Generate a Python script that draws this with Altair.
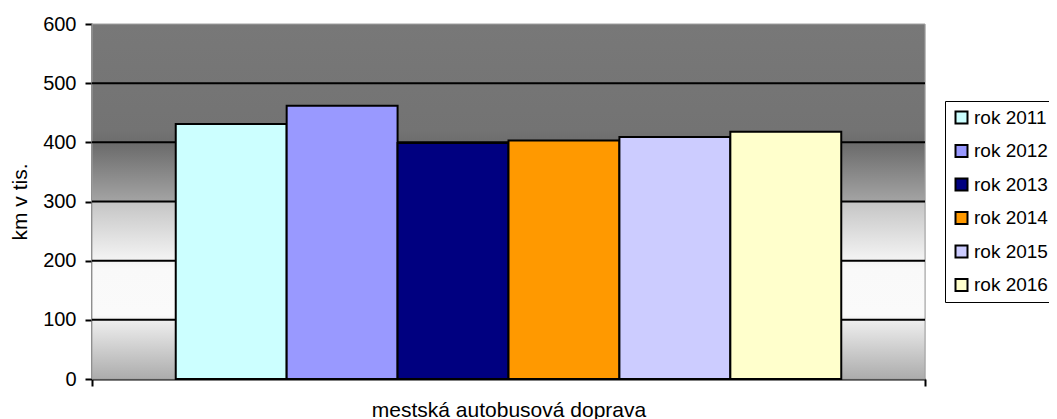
import altair as alt
import pandas as pd

# ---- data ----
years = ["rok 2011", "rok 2012", "rok 2013", "rok 2014", "rok 2015", "rok 2016"]
values = [431, 462, 399, 403, 409, 418]
colors = ["#CCFFFF", "#9999FF", "#000080", "#FF9900", "#CCCCFF", "#FFFFCC"]
category = "mestská autobusová doprava"
y_ticks = [0, 100, 200, 300, 400, 500, 600]
grid_values = [100, 200, 300, 400, 500]

FONT = "Arial, Liberation Sans, sans-serif"

df = pd.DataFrame({"cat": [category] * len(years), "year": years, "km": values})
grid_df = pd.DataFrame({"v": grid_values})
bg_df = pd.DataFrame({"k": [0]})

gradient = {
    "gradient": "linear",
    "x1": 0, "y1": 0, "x2": 0, "y2": 1,
    "stops": [
        {"offset": 0.00, "color": "#787878"},
        {"offset": 0.30, "color": "#737373"},
        {"offset": 0.34, "color": "#6c6c6c"},
        {"offset": 0.495, "color": "#a2a2a2"},
        {"offset": 0.505, "color": "#c6c6c6"},
        {"offset": 0.66, "color": "#f2f2f2"},
        {"offset": 0.69, "color": "#f9f9f9"},
        {"offset": 0.82, "color": "#fafafa"},
        {"offset": 0.84, "color": "#ececec"},
        {"offset": 1.00, "color": "#acacac"},
    ],
}

y_scale = alt.Scale(domain=[0, 600], nice=False)
y_axis = alt.Axis(
    title="km v tis.", values=y_ticks, grid=False, tickSize=7, tickWidth=2,
    tickColor="black", domainColor="black", domainWidth=2,
    labelFontSize=20, labelFont=FONT, labelColor="black", labelPadding=9,
    titleFontSize=21, titleFont=FONT, titleFontWeight="normal",
    titleColor="black", titlePadding=12,
)

bg = alt.Chart(bg_df).mark_rect(fill=gradient, stroke="#a0a0a0", strokeWidth=1).encode(
    x=alt.value(0), x2=alt.value("width"), y=alt.value(0), y2=alt.value("height")
)

grid = alt.Chart(grid_df).mark_rule(color="black", strokeWidth=2).encode(
    y=alt.Y("v:Q", axis=y_axis, scale=y_scale)
)

bars = alt.Chart(df).mark_bar(stroke="black", strokeWidth=2, opacity=1).encode(
    x=alt.X(
        "cat:N",
        scale=alt.Scale(paddingInner=0, paddingOuter=0),
        axis=alt.Axis(
            title=None, labelAngle=0, tickBand="extent", tickSize=7, tickWidth=2,
            tickColor="black", domainColor="black", domainWidth=2,
            labelFontSize=21, labelFont=FONT, labelColor="black", labelPadding=13,
            labelLimit=600,
        ),
    ),
    xOffset=alt.XOffset(
        "year:N", sort=years, scale=alt.Scale(paddingInner=0, paddingOuter=0.755)
    ),
    y=alt.Y("km:Q", scale=y_scale, axis=y_axis),
    color=alt.Color(
        "year:N",
        sort=years,
        scale=alt.Scale(domain=years, range=colors),
        legend=alt.Legend(
            title=None, orient="none", legendX=853, legendY=77,
            symbolType="square", symbolSize=144, symbolStrokeColor="black",
            symbolStrokeWidth=2, symbolOpacity=1,
            labelFontSize=19, labelFont=FONT, labelColor="black", labelOffset=3,
            rowPadding=12.5, padding=7, strokeColor="black", fillColor="white",
            labelLimit=300,
        ),
    ),
)

chart = alt.layer(bg, grid, bars).properties(
    width=833,
    height=355,
    padding={"left": 84, "top": 16, "right": 124, "bottom": 40},
    autosize=alt.AutoSizeParams(type="none"),
).configure_view(stroke=None).configure(background="white")

chart.save("out.html", embed_options={"renderer": "svg", "actions": False})
